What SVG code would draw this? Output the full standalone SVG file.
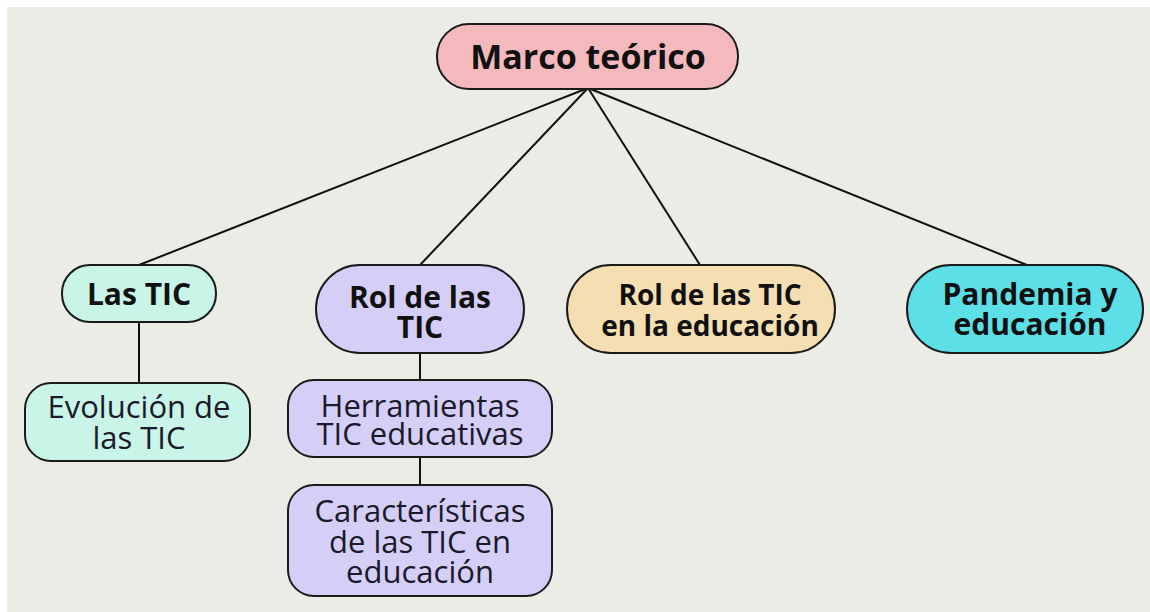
<svg xmlns="http://www.w3.org/2000/svg" width="1150" height="612" viewBox="0 0 1150 612">
<style>
.node{stroke:#1a1a1a;stroke-width:2}
.b{font-family:"Open Sans","Noto Sans","DejaVu Sans",sans-serif;font-weight:700;fill:#111;text-anchor:middle;font-size:30px}
.r{font-family:"Open Sans","Noto Sans","DejaVu Sans",sans-serif;font-weight:400;fill:#1a1a2a;text-anchor:middle;font-size:31px}
.conn line{stroke:#111;stroke-width:2}
</style>
<rect x="0" y="0" width="1150" height="612" fill="#ffffff"/>
<rect x="7" y="7" width="1143" height="605" fill="#ecece6"/>
<g id="connectors" class="conn">
<line x1="588" y1="88" x2="139" y2="265"/>
<line x1="588" y1="88" x2="420" y2="265"/>
<line x1="588" y1="88" x2="700" y2="265"/>
<line x1="588" y1="88" x2="1027" y2="265"/>
<line x1="139" y1="322" x2="139" y2="383"/>
<line x1="420" y1="353" x2="420" y2="380"/>
<line x1="420" y1="457" x2="420" y2="485"/>
</g>
<g id="marco">
<rect class="node" x="437" y="24" width="301" height="65" rx="32" fill="#f4b9bd"/>
<text class="b" x="588" y="69" style="font-size:34px">Marco teórico</text>
</g>
<g id="las-tic">
<rect class="node" x="62" y="265" width="154" height="57" rx="28" fill="#c8f5e8"/>
<text class="b" x="139" y="305">Las TIC</text>
</g>
<g id="evolucion">
<rect class="node" x="25" y="383" width="225" height="78" rx="26" fill="#c8f5e8"/>
<text class="r" x="139" y="418">Evolución de</text>
<text class="r" x="139" y="449">las TIC</text>
</g>
<g id="rol-tic">
<rect class="node" x="316" y="265" width="208" height="88" rx="44" fill="#d5cff8"/>
<text class="b" x="420" y="308">Rol de las</text>
<text class="b" x="420" y="338">TIC</text>
</g>
<g id="herramientas">
<rect class="node" x="288" y="380" width="264" height="77" rx="26" fill="#d5cff8"/>
<text class="r" x="420" y="417">Herramientas</text>
<text class="r" x="420" y="445">TIC educativas</text>
</g>
<g id="caracteristicas">
<rect class="node" x="288" y="485" width="264" height="111" rx="26" fill="#d5cff8"/>
<text class="r" x="420" y="522">Características</text>
<text class="r" x="420" y="553">de las TIC en</text>
<text class="r" x="420" y="583">educación</text>
</g>
<g id="rol-educacion">
<rect class="node" x="567" y="265" width="268" height="88" rx="44" fill="#f5dfb2"/>
<text class="b" x="710" y="305" style="font-size:28px">Rol de las TIC</text>
<text class="b" x="710" y="336" style="font-size:28px">en la educación</text>
</g>
<g id="pandemia">
<rect class="node" x="907" y="265" width="236" height="88" rx="44" fill="#5cdfe7"/>
<text class="b" x="1030" y="305">Pandemia y</text>
<text class="b" x="1030" y="335">educación</text>
</g>
</svg>
